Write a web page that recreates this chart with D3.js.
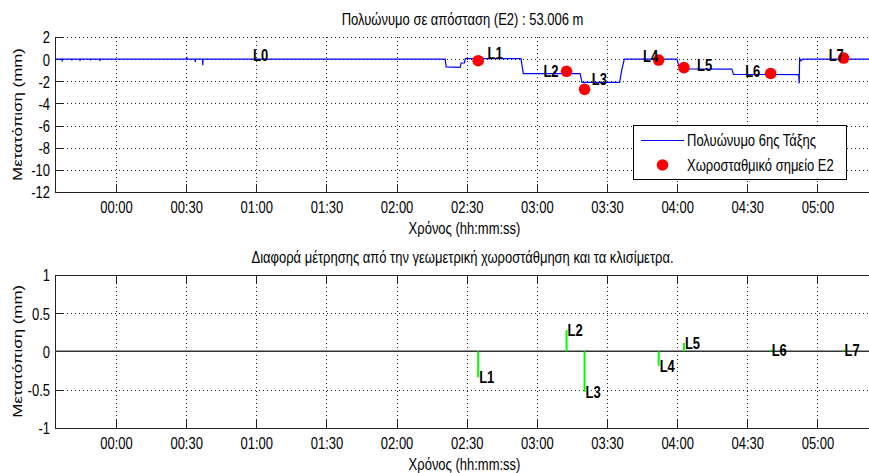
<!DOCTYPE html>
<html>
<head>
<meta charset="utf-8">
<script src="https://cdn.jsdelivr.net/npm/d3@7"></script>
<style>
  html, body { margin: 0; padding: 0; background: #fff; }
  svg { display: block; }
  text { font-family: "Liberation Sans", Arial, sans-serif; font-size: 13px; fill: #000; }
  text.mark-label { font-weight: bold; }
</style>
</head>
<body>
<svg id="chart" width="869" height="473"></svg>
<script>
// Time axis labels (hh:mm), and the time span shown (minutes from midnight)
const xTickLabels = ["00:00", "00:30", "01:00", "01:30", "02:00", "02:30", "03:00", "03:30", "04:00", "04:30", "05:00"];
const timeSpan = [-26.1, 324.2];

// 6th order polynomial of the displacement (mm) over time (minutes from midnight)
const polyTime = [
  -26.1,
  -23.1, -23.0, -22.9,
  -19.0, -18.9, -18.8,
  -15.5, -15.4, -15.3,
  -11.0, -10.9, -10.8,
  -7.0, -6.9, -6.8,
  30.2, 30.3, 30.4,
  33.8, 33.9, 34.0,
  37.0, 37.1, 37.2,
  140.8, 141.2, 147.2, 147.6, 149.0, 149.4,
  173.2, 174.2, 198.5, 199.3, 215.4, 216.3, 217.4,
  239.9, 240.6, 241.5, 263.4, 264.1,
  292.0, 292.2, 292.4, 293.0, 293.6, 324.2
];
const polyValue = [
  0,
  0, -0.2, 0,
  0, -0.12, 0,
  0, -0.15, 0,
  0, -0.12, 0,
  0, -0.15, 0,
  0, 0.2, 0,
  0, -0.25, 0,
  0, -0.55, 0,
  0, -0.7, -0.75, -0.35, -0.35, 0.05,
  0.05, -1.3, -1.3, -2.1, -2.1, -1.0, 0.0,
  0.0, -0.5, -0.88, -0.9, -1.38,
  -1.4, -2.2, 0.05, -0.15, 0.0, 0.0
];

// Levelling benchmark E2 readings
const pointNames = ["L1", "L2", "L3", "L4", "L5", "L6", "L7"];
const pointTime  = [154.9, 192.7, 200.4, 232.1, 242.9, 280.0, 311.2];
const pointValue = [-0.14, -1.10, -2.73, -0.08, -0.77, -1.29, 0.10];

// Label anchors on the polynomial panel
const labelNames = ["L0", "L1", "L2", "L3", "L4", "L5", "L6", "L7"];
const labelTime  = [58.6, 158.9, 182.8, 203.5, 225.4, 248.5, 269.1, 304.8];
const labelValue = [0.37, 0.52, -1.05, -1.83, 0.28, -0.53, -1.05, 0.37];

// Difference between levelling and inclinometers (mm)
const diffValue = [-0.34, 0.28, -0.53, -0.19, 0.11, 0.02, 0.02];

// Axis ticks
const topYTicks = [2, 0, -2, -4, -6, -8, -10, -12];
const bottomYTicks = [1, 0.5, 0, -0.5, -1];

const texts = {
  topTitle: "Πολυώνυμο σε απόσταση (E2) : 53.006 m",
  bottomTitle: "Διαφορά μέτρησης από την γεωμετρική χωροστάθμηση και τα κλισίμετρα.",
  xLabel: "Χρόνος (hh:mm:ss)",
  yLabel: "Μετατόπιση (mm)",
  legendLine: "Πολυώνυμο 6ης Τάξης",
  legendPoint: "Χωροσταθμικό σημείο E2"
};

// ---------------------------------------------------------------
const svg = d3.select("#chart");
const STRETCH = 1.3;           // glyphs are drawn taller than wide
const left = 55, right = 874;
const topPanel = { top: 37, bottom: 192 };
const botPanel = { top: 275, bottom: 427.7 };
const gridColor = "#222";

const toMin = s => { const [h, m] = s.split(":").map(Number); return h * 60 + m; };
const tickMinutes = xTickLabels.map(toMin);
const labelByMinute = new Map(tickMinutes.map((m, i) => [m, xTickLabels[i]]));

const x = d3.scaleLinear().domain(timeSpan).range([left, right]);
const yTop = d3.scaleLinear().domain([-12, 2]).range([topPanel.bottom, topPanel.top]);
const yBot = d3.scaleLinear().domain([-1, 1]).range([botPanel.bottom, botPanel.top]);

function stretchedText(sel, tx, ty, anchor, str, extra) {
  return sel.append("text")
    .attr("transform", `translate(${tx},${ty}) scale(1,${STRETCH})` + (extra || ""))
    .attr("text-anchor", anchor)
    .attr("dy", "0.35em")
    .text(str);
}

function styleAxisText(g, dxOff, dyOff, anchor) {
  g.selectAll(".tick text")
    .attr("x", null).attr("y", null).attr("dy", "0.35em")
    .attr("text-anchor", anchor)
    .attr("transform", `translate(${dxOff},${dyOff}) scale(1,${STRETCH})`)
    .attr("fill", "#000")
    .style("font-size", "13px")
    .style("font-family", '"Liberation Sans", Arial, sans-serif');
  g.selectAll(".tick line").attr("stroke", "#222");
  g.selectAll(".domain").attr("stroke", "#222");
  g.attr("shape-rendering", "crispEdges");
}

function drawPanel(y, panel, yTicks, yFmt, boxTop) {
  const g = svg.append("g");
  const grid = g.append("g").attr("shape-rendering", "crispEdges");
  // vertical grid
  grid.selectAll(".vg").data(tickMinutes).join("line")
    .attr("x1", d => Math.round(x(d)) + 0.5).attr("x2", d => Math.round(x(d)) + 0.5)
    .attr("y1", panel.top).attr("y2", panel.bottom)
    .attr("stroke", gridColor).attr("stroke-dasharray", "1,3");
  // horizontal grid
  grid.selectAll(".hg").data(yTicks).join("line")
    .attr("x1", left).attr("x2", right)
    .attr("y1", d => Math.round(y(d)) + 0.5).attr("y2", d => Math.round(y(d)) + 0.5)
    .attr("stroke", gridColor).attr("stroke-dasharray", "1,3");

  // axes
  const xAxis = d3.axisBottom(x).tickValues(tickMinutes)
    .tickFormat(d => labelByMinute.get(d)).tickSizeInner(-8).tickSizeOuter(0);
  const gx = g.append("g").attr("transform", `translate(0,${panel.bottom})`).call(xAxis);
  styleAxisText(gx, 0, 15, "middle");

  const yAxis = d3.axisLeft(y).tickValues(yTicks).tickFormat(yFmt)
    .tickSizeInner(-8).tickSizeOuter(0);
  const gy = g.append("g").attr("transform", `translate(${left},0)`).call(yAxis);
  styleAxisText(gy, -5, 0, "end");

  if (boxTop) {
    const xTopAxis = d3.axisTop(x).tickValues(tickMinutes).tickFormat("")
      .tickSizeInner(-8).tickSizeOuter(0);
    const gt = g.append("g").attr("transform", `translate(0,${panel.top})`).call(xTopAxis);
    styleAxisText(gt, 0, 0, "middle");
  }

  // y axis title
  stretchedText(g, 17, (panel.top + panel.bottom) / 2, "middle", texts.yLabel, " rotate(-90)");
  // x axis title
  stretchedText(g, (left + right) / 2, panel.bottom + 36, "middle", texts.xLabel);
  return g;
}

// ---------------- Top panel ----------------
const gTop = drawPanel(yTop, topPanel, topYTicks, d => String(d), false);
stretchedText(svg, (left + right) / 2 - 2, topPanel.top - 18, "middle", texts.topTitle);

svg.append("clipPath").attr("id", "clipTop").append("rect")
  .attr("x", left).attr("y", topPanel.top - 10).attr("width", right - left).attr("height", topPanel.bottom - topPanel.top + 10);

const polyData = polyTime.map((t, i) => [t, polyValue[i]]);
gTop.append("path")
  .datum(polyData)
  .attr("clip-path", "url(#clipTop)")
  .attr("fill", "none")
  .attr("stroke", "#0000ff")
  .attr("stroke-width", 1.2)
  .attr("d", d3.line().x(d => x(d[0])).y(d => yTop(d[1])));

gTop.selectAll(".pt").data(pointTime).join("circle")
  .attr("cx", d => x(d))
  .attr("cy", (d, i) => yTop(pointValue[i]))
  .attr("r", 5.8)
  .attr("fill", "#ff0000");

labelNames.forEach((n, i) => {
  stretchedText(gTop, x(labelTime[i]), yTop(labelValue[i]), "start", n).attr("class", "mark-label");
});

// legend
const lg = gTop.append("g");
lg.append("rect").attr("x", 633.5).attr("y", 125.5).attr("width", 213).attr("height", 54)
  .attr("fill", "#fff").attr("stroke", "#000").attr("stroke-width", 1).attr("shape-rendering", "crispEdges");
lg.append("line").attr("x1", 641).attr("x2", 684).attr("y1", 140.5).attr("y2", 140.5)
  .attr("stroke", "#0000ff").attr("stroke-width", 1.2);
lg.append("circle").attr("cx", 662.5).attr("cy", 165).attr("r", 5.8).attr("fill", "#ff0000");
stretchedText(lg, 687, 140.5, "start", texts.legendLine);
stretchedText(lg, 687, 165, "start", texts.legendPoint);

// ---------------- Bottom panel ----------------
const gBot = drawPanel(yBot, botPanel, bottomYTicks, d => String(d), true);
stretchedText(svg, (left + right) / 2 - 2, botPanel.top - 18, "middle", texts.bottomTitle);

// zero reference line
gBot.append("line")
  .attr("x1", left).attr("x2", right)
  .attr("y1", yBot(0)).attr("y2", yBot(0))
  .attr("stroke", "#333").attr("stroke-width", 1.5);

// difference stems
gBot.selectAll(".stem").data(pointTime).join("line")
  .attr("x1", d => x(d)).attr("x2", d => x(d))
  .attr("y1", yBot(0))
  .attr("y2", (d, i) => yBot(diffValue[i]))
  .attr("stroke", "#00ff00").attr("stroke-width", 2);

pointNames.forEach((n, i) => {
  stretchedText(gBot, x(pointTime[i]) + 1, yBot(diffValue[i]), "start", n).attr("class", "mark-label");
});
</script>
</body>
</html>
